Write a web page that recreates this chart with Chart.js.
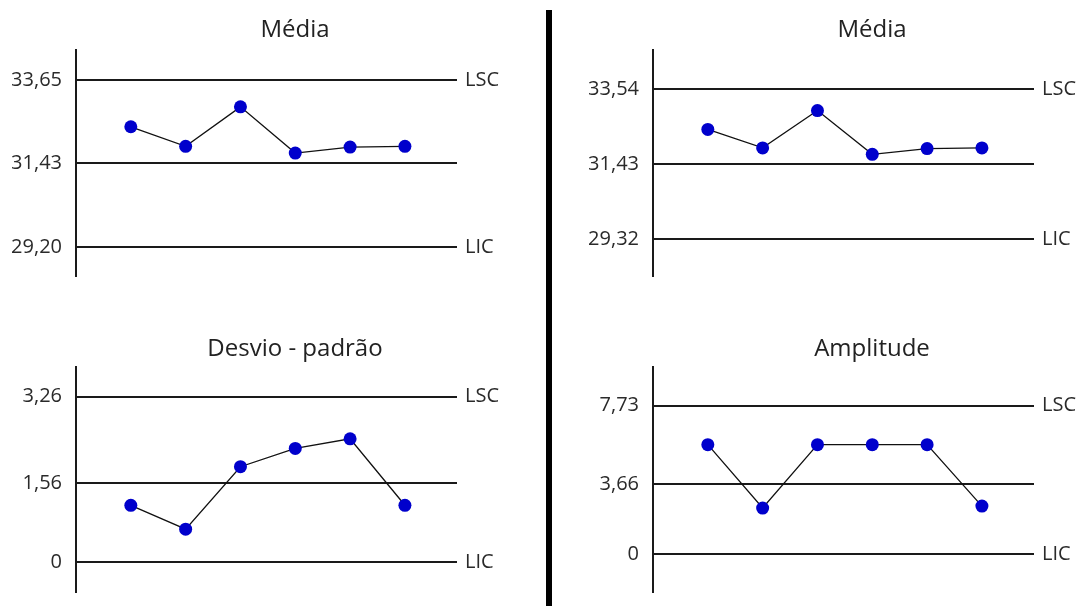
<!DOCTYPE html>
<html lang="pt">
<head>
<meta charset="utf-8">
<title>Cartas de controle</title>
<script src="https://cdn.jsdelivr.net/npm/chart.js@4.4.1/dist/chart.umd.min.js"></script>
<style>
  html, body { margin: 0; padding: 0; background: #fff; overflow: hidden; }
  #painel { position: relative; width: 1082px; height: 606px; overflow: hidden; }
  canvas { position: absolute; }
  #divisoria { position: absolute; left: 546px; top: 10px; width: 6px; height: 596px; background: #000; z-index: 5; }
</style>
</head>
<body>
<div id="painel">
  <canvas id="mediaS" width="578" height="302" style="left:0;top:0"></canvas>
  <canvas id="mediaR" width="578" height="302" style="left:577px;top:0"></canvas>
  <canvas id="desvio" width="578" height="318" style="left:0;top:300px"></canvas>
  <canvas id="amplitude" width="578" height="318" style="left:577px;top:300px"></canvas>
  <div id="divisoria"></div>
</div>
<script>
const amostras = [1, 2, 3, 4, 5, 6];

const mediaValores = [32.40, 31.88, 32.93, 31.70, 31.86, 31.88];
const desvioValores = [1.12, 0.65, 1.88, 2.24, 2.43, 1.12];
const amplitudeValores = [5.7, 2.4, 5.7, 5.7, 5.7, 2.5];

// limites: LIC, LC, LSC
const limitesMediaS = [29.20, 31.43, 33.65];
const limitesMediaR = [29.32, 31.43, 33.54];
const limitesDesvio = [0, 1.56, 3.26];
const limitesAmplitude = [0, 3.66, 7.73];

const rotulosMediaS = ["29,20", "31,43", "33,65"];
const rotulosMediaR = ["29,32", "31,43", "33,54"];
const rotulosDesvio = ["0", "1,56", "3,26"];
const rotulosAmplitude = ["0", "3,66", "7,73"];

const rotulosLimites = ["LIC", "LSC"];

const fonte = "'Open Sans', 'DejaVu Sans', sans-serif";
const corLinha = "#1a1a1a";

function criarGrafico(id, titulo, valores, limites, rotulos, faixa, margem) {
  const ctx = document.getElementById(id).getContext("2d");
  return new Chart(ctx, {
    type: "line",
    data: {
      datasets: [{
        data: valores.map((v, i) => ({ x: amostras[i], y: v })),
        borderColor: "#111",
        borderWidth: 1.3,
        pointRadius: 6.5,
        pointBackgroundColor: "#0000cc",
        pointBorderColor: "#0000cc",
        pointBorderWidth: 0,
        tension: 0
      }]
    },
    options: {
      responsive: false,
      animation: false,
      layout: { padding: { left: 12, right: 0, top: margem.top, bottom: 26 } },
      plugins: {
        legend: { display: false },
        tooltip: { enabled: false },
        title: {
          display: true,
          text: titulo,
          color: "#222",
          font: { family: fonte, size: 24, weight: "normal" },
          padding: { top: 0, bottom: margem.title }
        }
      },
      scales: {
        x: { type: "linear", min: 0, max: 6.95, display: false },
        y: {
          position: "left",
          min: faixa[0],
          max: faixa[1],
          afterBuildTicks: (scale) => { scale.ticks = limites.map(v => ({ value: v })); },
          afterFit: (scale) => { scale.width = 64; },
          ticks: {
            padding: 14,
            color: "#2a2a2a",
            font: { family: fonte, size: 20 },
            callback: (value, index) => rotulos[index]
          },
          grid: { color: corLinha, lineWidth: 2, drawTicks: false },
          border: { display: true, color: corLinha, width: 2 }
        },
        y2: {
          position: "right",
          min: faixa[0],
          max: faixa[1],
          afterBuildTicks: (scale) => {
            scale.ticks = [{ value: limites[0] }, { value: limites[2] }];
          },
          afterFit: (scale) => { scale.width = 121; },
          ticks: {
            padding: 8,
            color: "#2a2a2a",
            font: { family: fonte, size: 20 },
            callback: (value, index) => rotulosLimites[index]
          },
          grid: { display: false, drawTicks: false },
          border: { display: false }
        }
      }
    }
  });
}

document.addEventListener("DOMContentLoaded", () => {
  const topo = { top: 16, title: 5 };
  const baixo = { top: 35, title: 3 };

  criarGrafico("mediaS", "Média", mediaValores, limitesMediaS, rotulosMediaS, [28.427, 34.449], topo);
  criarGrafico("mediaR", "Média", mediaValores, limitesMediaR, rotulosMediaR, [28.279, 34.637], topo);
  criarGrafico("desvio", "Desvio - padrão", desvioValores, limitesDesvio, rotulosDesvio, [-0.589, 3.849], baixo);
  criarGrafico("amplitude", "Amplitude", amplitudeValores, limitesAmplitude, rotulosAmplitude, [-1.971, 9.753], baixo);
});
</script>
</body>
</html>
